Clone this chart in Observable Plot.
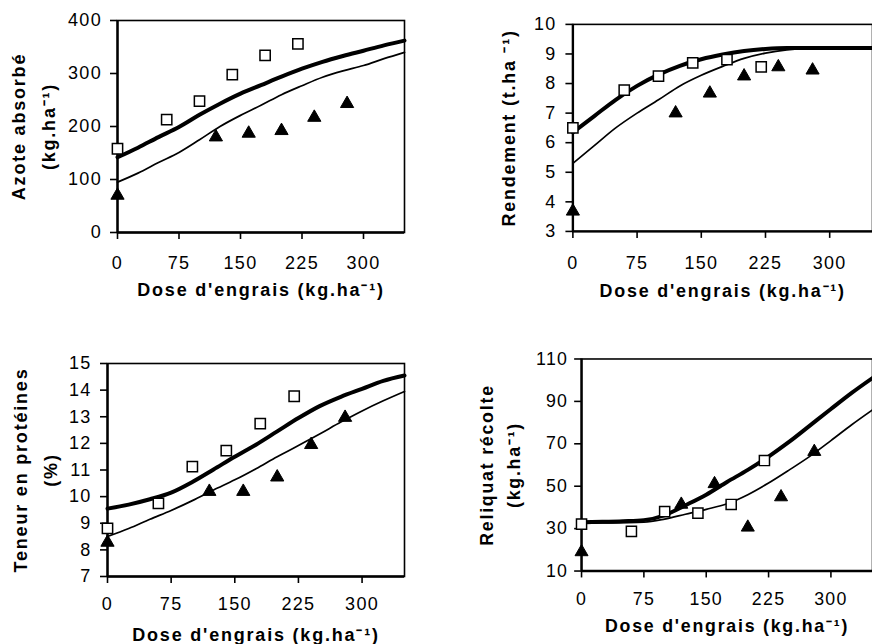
<!DOCTYPE html>
<html>
<head>
<meta charset="utf-8">
<script src="https://cdn.jsdelivr.net/npm/d3@7"></script>
<script src="https://cdn.jsdelivr.net/npm/@observablehq/plot@0.6"></script>
<style>
  html, body { margin: 0; padding: 0; background: #fff; overflow: hidden; }
  #wrap { position: relative; width: 872px; height: 644px; overflow: hidden; background: #fff; }
  .panel { position: absolute; }
</style>
</head>
<body>
<div id="wrap"></div>
<script>
// ---------- data ----------
const doseSquares   = [0, 60, 100, 140, 180, 220];
const doseTriangles = [0, 120, 160, 200, 240, 280];
const doseCurve     = [0, 25, 50, 75, 100, 125, 150, 175, 200, 225, 250, 275, 300, 325, 350];
const xTicks        = [0, 75, 150, 225, 300];

// Azote absorbé (kg.ha-1)
const azoteSquares   = [158, 213, 248, 298, 334, 356];
const azoteTriangles = [70, 180, 187, 192, 217, 243];
const azoteThick     = [142, 160, 180, 199, 222, 243, 262, 278, 294, 309, 322, 333, 343, 353, 362];
const azoteThin      = [95, 112, 132, 151, 175, 200, 221, 240, 260, 277, 293, 305, 315, 328, 340];
const azoteTicks     = [0, 100, 200, 300, 400];

// Rendement (t.ha-1)
const rendSquares   = [6.5, 7.78, 8.25, 8.7, 8.81, 8.56];
const rendTriangles = [3.68, 7.0, 7.67, 8.25, 8.56, 8.45];
const rendThick     = [6.35, 6.9, 7.45, 7.92, 8.3, 8.6, 8.82, 8.98, 9.1, 9.17, 9.2, 9.2, 9.2, 9.2, 9.2];
const rendThin      = [5.3, 5.9, 6.5, 7.0, 7.45, 7.92, 8.28, 8.58, 8.85, 9.03, 9.14, 9.19, 9.2, 9.2, 9.2];
const rendTicks     = [3, 4, 5, 6, 7, 8, 9, 10];

// Teneur en protéines (%)
const protSquares   = [8.81, 9.75, 11.13, 11.73, 12.74, 13.77];
const protTriangles = [8.28, 10.19, 10.19, 10.73, 11.95, 12.97];
const protThick     = [9.55, 9.7, 9.9, 10.15, 10.55, 11.02, 11.5, 11.95, 12.45, 12.95, 13.4, 13.75, 14.05, 14.35, 14.55];
const protThin      = [8.5, 8.8, 9.15, 9.48, 9.85, 10.25, 10.63, 11.05, 11.5, 11.92, 12.35, 12.8, 13.22, 13.6, 13.95];
const protTicks     = [7, 8, 9, 10, 11, 12, 13, 14, 15];

// Reliquat récolte (kg.ha-1)
const reliqSquares   = [32.1, 28.7, 38, 37.3, 41.4, 62.1];
const reliqTriangles = [19, 41.4, 51.1, 30.6, 44.9, 66.3];
const reliqThick     = [33, 33.2, 33.5, 34, 36.3, 41, 46, 52, 57.7, 64, 71, 78.7, 86.4, 94, 101];
const reliqThin      = [32.5, 32.7, 32.8, 33, 34.5, 36.8, 39.1, 41.7, 46, 51.5, 57.7, 64.2, 71.5, 79, 86];
const reliqTicks     = [10, 30, 50, 70, 90, 110];

const xTitle = "Dose d'engrais (kg.ha\u207B\u00B9)";

// ---------- drawing ----------
const FONT = "'Liberation Sans', Arial, Helvetica, sans-serif";
const pairs = (xs, ys) => xs.map((x, i) => [x, ys[i]]);

function panel(o) {
  const yTitleMarks = o.yTitles.map(t =>
    Plot.text([t.text], {
      frameAnchor: "left", rotate: -90, dx: t.dx, textAnchor: "middle", lineAnchor: "middle",
      fontWeight: "bold", fontSize: 18, fill: "black"
    })
  );
  const svg = Plot.plot({
    width: o.width, height: o.height,
    marginLeft: o.mL, marginRight: o.mR, marginTop: o.mT, marginBottom: o.mB,
    style: { fontFamily: FONT, fontSize: "18px", color: "black", background: "white", overflow: "visible" },
    x: { domain: [0, 350], label: null },
    y: { domain: o.yDomain, label: null },
    marks: [
      Plot.frame({ stroke: "black", strokeWidth: 1.6 }),
      Plot.axisX({ ticks: xTicks, tickFormat: d => String(d), tickSize: 7, tickPadding: o.xPad, strokeWidth: 1.6, label: null, fontSize: 18 }),
      Plot.axisY({ ticks: o.yTicks, tickFormat: d => String(d), tickSize: 7, tickPadding: o.yPad, strokeWidth: 1.6, label: null, fontSize: 18 }),
      Plot.ruleX([0], { stroke: "black", strokeWidth: 2.4 }),
      Plot.ruleY([o.yDomain[0]], { stroke: "black", strokeWidth: 2.4 }),
      Plot.line(pairs(doseCurve, o.thin), { stroke: "black", strokeWidth: 1.7, curve: "monotone-x" }),
      Plot.line(pairs(doseCurve, o.thick), { stroke: "black", strokeWidth: 4, curve: "monotone-x" }),
      Plot.dot(pairs(doseSquares, o.squares), { symbol: "square", r: 5.8, fill: "white", stroke: "black", strokeWidth: 1.5 }),
      Plot.dot(pairs(doseTriangles, o.triangles), { symbol: "triangle", r: 4.9, fill: "black", stroke: "black", strokeWidth: 1 }),
      Plot.text([xTitle], { frameAnchor: "bottom", dy: o.xTitleDy, lineAnchor: "top", fontWeight: "bold", fontSize: 18, fill: "black" }),
      ...yTitleMarks
    ]
  });
  d3.select(svg).selectAll("g[aria-label='text'] text").style("letter-spacing", "1.8px");
  d3.select(svg).selectAll("g[aria-label='x-axis tick label'] text, g[aria-label='y-axis tick label'] text").style("letter-spacing", "1.3px");
  const div = document.createElement("div");
  div.className = "panel";
  div.style.left = o.left + "px";
  div.style.top = o.top + "px";
  div.appendChild(svg);
  document.getElementById("wrap").appendChild(div);
}

panel({
  left: 0, top: 0, width: 440, height: 310, mL: 117, mR: 36, mT: 20, mB: 78,
  yDomain: [0, 400], yTicks: azoteTicks, xPad: 17, yPad: 8.5, xTitleDy: 51,
  squares: azoteSquares, triangles: azoteTriangles, thick: azoteThick, thin: azoteThin,
  yTitles: [{ text: "Azote absorbé", dx: -98 }, { text: "(kg.ha\u207B\u00B9)", dx: -68 }]
});
panel({
  left: 440, top: 0, width: 434, height: 310, mL: 133, mR: 0, mT: 24, mB: 78,
  yDomain: [3, 10], yTicks: rendTicks, xPad: 18, yPad: 9.5, xTitleDy: 53,
  squares: rendSquares, triangles: rendTriangles, thick: rendThick, thin: rendThin,
  yTitles: [{ text: "Rendement (t.ha \u207B\u00B9)", dx: -64 }]
});
panel({
  left: 0, top: 322, width: 440, height: 322, mL: 107, mR: 36, mT: 41, mB: 68,
  yDomain: [7, 15], yTicks: protTicks, xPad: 14, yPad: 9, xTitleDy: 52,
  squares: protSquares, triangles: protTriangles, thick: protThick, thin: protThin,
  yTitles: [{ text: "Teneur en protéines", dx: -86 }, { text: "(%)", dx: -56 }]
});
panel({
  left: 440, top: 322, width: 438, height: 322, mL: 143, mR: 0, mT: 37, mB: 70,
  yDomain: [10, 110], yTicks: reliqTicks, xPad: 15, yPad: 6.5, xTitleDy: 49,
  squares: reliqSquares, triangles: reliqTriangles, thick: reliqThick, thin: reliqThin,
  yTitles: [{ text: "Reliquat récolte", dx: -96 }, { text: "(kg.ha\u207B\u00B9)", dx: -68 }]
});
</script>
</body>
</html>
